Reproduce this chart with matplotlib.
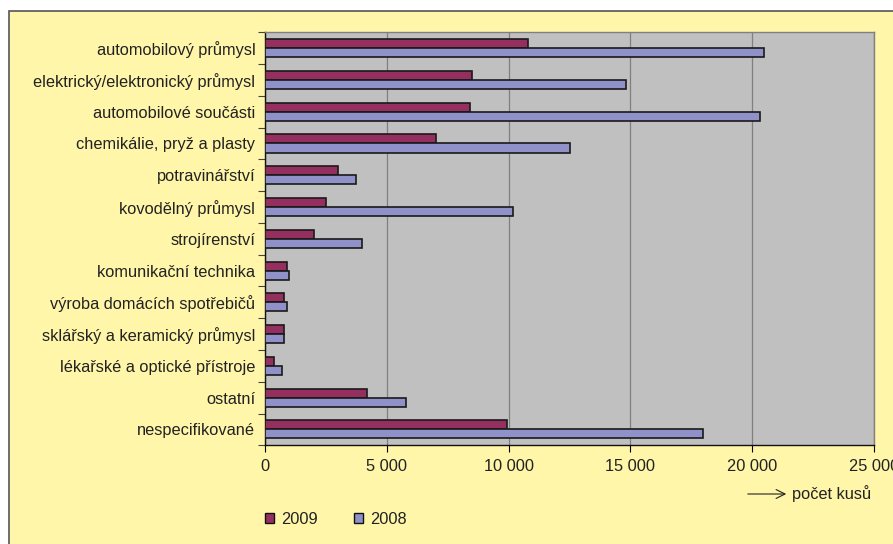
import numpy as np
import matplotlib
matplotlib.use("Agg")
import matplotlib.pyplot as plt
import matplotlib.ticker as ticker
from matplotlib.patches import Rectangle, Patch

categories = [
    "automobilový průmysl",
    "elektrický/elektronický průmysl",
    "automobilové součásti",
    "chemikálie, pryž a plasty",
    "potravinářství",
    "kovodělný průmysl",
    "strojírenství",
    "komunikační technika",
    "výroba domácích spotřebičů",
    "sklářský a keramický průmysl",
    "lékařské a optické přístroje",
    "ostatní",
    "nespecifikované",
]
values_2009 = [10800, 8500, 8400, 7000, 3000, 2500, 2000, 900, 760, 760, 350, 4200, 9950]
values_2008 = [20500, 14800, 20300, 12500, 3750, 10200, 4000, 1000, 900, 800, 700, 5800, 18000]
x_ticks = [0, 5000, 10000, 15000, 20000, 25000]

YELLOW = "#FFF6A9"
COL_2009 = "#952F5F"
COL_2008 = "#9191C9"
FS = 11.8


def thousands(x, p):
    return f"{x:,.0f}".replace(",", " ")


def main():
    plt.rcParams["font.family"] = ["Liberation Sans", "DejaVu Sans"]
    fig = plt.figure(figsize=(8.93, 5.44), dpi=100)
    fig.patch.set_facecolor("white")

    # yellow chart frame
    frame = Rectangle((9 / 893, -0.05), 1.2, 0.05 + (544 - 11) / 544,
                      transform=fig.transFigure, facecolor=YELLOW,
                      edgecolor="#555555", linewidth=1.2, zorder=-10)
    fig.patches.append(frame)

    ax = fig.add_axes([265 / 893, (544 - 445.3) / 544, 609 / 893, 413 / 544])
    ax.set_facecolor("#C0C0C0")

    pos = np.arange(len(categories))
    h = 0.285
    ax.barh(pos - h / 2, values_2009, height=h, color=COL_2009,
            edgecolor="#1a1a1a", linewidth=1.2, zorder=3, label="2009")
    ax.barh(pos + h / 2, values_2008, height=h, color=COL_2008,
            edgecolor="#1a1a1a", linewidth=1.2, zorder=3, label="2008")

    ax.set_ylim(len(categories) - 0.5, -0.5)
    ax.set_xlim(0, 25000)
    ax.set_yticks(pos)
    ax.set_yticklabels(categories, fontsize=FS, color="#222222")
    ax.yaxis.set_minor_locator(ticker.FixedLocator(np.arange(-0.5, len(categories), 1)))
    ax.tick_params(axis="y", which="major", length=0, pad=7)
    ax.tick_params(axis="y", which="minor", length=5, width=0.8, color="#444444")

    ax.set_xticks(x_ticks)
    ax.xaxis.set_major_formatter(ticker.FuncFormatter(thousands))
    ax.tick_params(axis="x", length=5, width=0.8, labelsize=FS,
                   labelcolor="#222222", pad=5)
    ax.grid(axis="x", color="#808080", linewidth=0.9, zorder=1)
    ax.set_axisbelow(True)

    for side in ["top", "right"]:
        ax.spines[side].set_color("#808080")
        ax.spines[side].set_linewidth(1.0)
    for side in ["left", "bottom"]:
        ax.spines[side].set_color("#111111")
        ax.spines[side].set_linewidth(1.0)

    # axis unit with arrow
    fig.text(792 / 893, (544 - 494) / 544, "počet kusů", fontsize=FS,
             color="#222222", va="center", ha="left")
    ax.annotate("", xy=(789 / 893, (544 - 494) / 544), xytext=(745 / 893, (544 - 494) / 544),
                xycoords="figure fraction", textcoords="figure fraction",
                arrowprops=dict(arrowstyle="->", color="#222222", lw=0.8,
                                mutation_scale=16))

    handles = [Patch(facecolor=COL_2009, edgecolor="#111111", label="2009"),
               Patch(facecolor=COL_2008, edgecolor="#111111", label="2008")]
    fig.legend(handles=handles, loc="center left",
               bbox_to_anchor=(265 / 893, (544 - 519) / 544), ncol=2,
               frameon=False, fontsize=FS, handlelength=0.55, handleheight=0.55,
               handletextpad=0.45, columnspacing=2.2, borderpad=0,
               borderaxespad=0, labelcolor="#222222")

    fig.savefig("out.png", dpi=100)


if __name__ == "__main__":
    main()
